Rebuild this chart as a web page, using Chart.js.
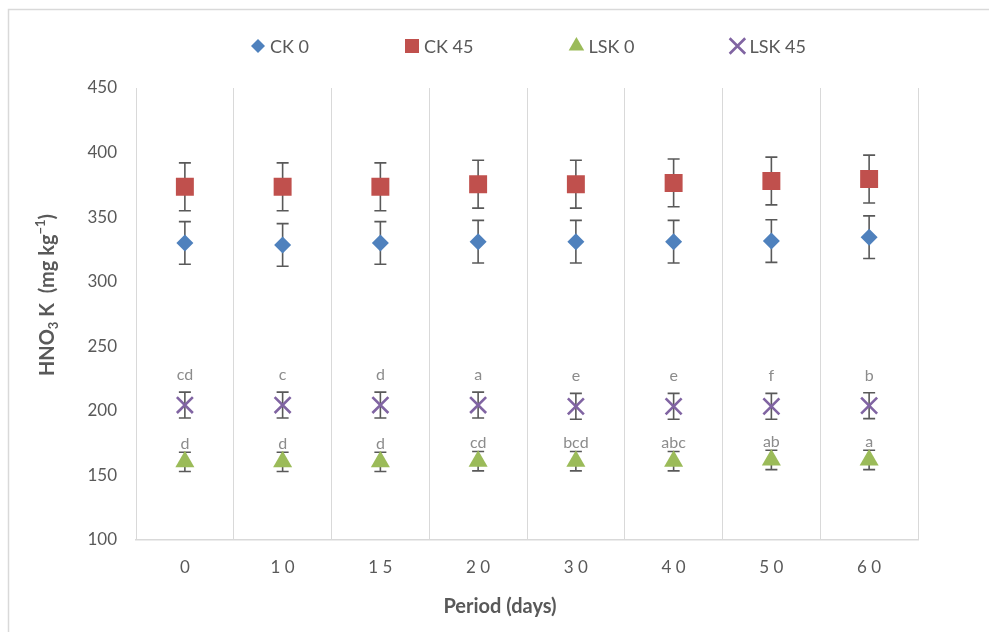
<!DOCTYPE html>
<html><head><meta charset="utf-8">
<script src="https://cdn.jsdelivr.net/npm/chart.js@4.4.0/dist/chart.umd.min.js"></script>
<style>html,body{margin:0;padding:0;background:#fff;overflow:hidden}#wrap{width:989px;height:632px;position:relative}</style>
</head><body><div id="wrap"><canvas id="c" width="989" height="632"></canvas></div>
<script>
// ---- data ----
const periods = ['0','10','15','20','30','40','50','60'];
const ck0      = [330, 328.5, 330, 331, 331, 331, 331.5, 334.5];
const ck0Err   = [16.5, 16.5, 16.5, 16.5, 16.5, 16.5, 16.5, 16.5];
const ck45     = [373.5, 373.5, 373.5, 375.5, 375.5, 376.5, 378, 379.5];
const ck45Err  = [18.5, 18.5, 18.5, 18.5, 18.5, 18.5, 18.5, 18.5];
const lsk0     = [160.5, 160.5, 160.5, 161, 161, 161, 162, 162];
const lsk0Err  = [7.5, 7.5, 7.5, 7.5, 7.5, 7.5, 7.5, 7.5];
const lsk45    = [204.5, 204.5, 204.5, 204.5, 203.5, 203.5, 203.5, 204];
const lsk45Err = [10, 10, 10, 10, 10, 10, 10, 10];
const lsk45Letters = ['cd','c','d','a','e','e','f','b'];
const lsk0Letters  = ['d','d','d','cd','bcd','abc','ab','a'];
const seriesNames = ['CK 0','CK 45','LSK 0','LSK 45'];
const yMin = 100, yMax = 450, yStep = 50;
const yTitleParts = [['HNO',''],['3','sub'],[' K  (mg kg',''],['\u22121','sup'],[')','']];
const xTitle = 'Period (days)';

const FONT = 'Lato, "Open Sans", sans-serif';
const TXT = '#595959';
const GRID = '#d9d9d9';

const styles = [
  {color:'#4f81bd', point:'rectRot', r:8.5, lr:7,   bw:0},
  {color:'#c0504d', point:'rect',    r:12.7, lr:9.9, bw:0},
  {color:'#9bbb59', point:'triangle',r:11,  lr:9,   bw:0},
  {color:'#8064a2', point:'crossRot',r:11.3, lr:11, bw:2.6}
];
const values = [ck0, ck45, lsk0, lsk45];
const errs = [ck0Err, ck45Err, lsk0Err, lsk45Err];

const datasets = values.map((v,i)=>({
  label: seriesNames[i],
  data: v,
  errors: errs[i],
  showLine:false,
  pointStyle: styles[i].point,
  pointRadius: styles[i].r,
  pointHoverRadius: styles[i].r,
  pointBackgroundColor: styles[i].color,
  pointBorderColor: styles[i].color,
  pointBorderWidth: styles[i].bw,
  borderColor: styles[i].color,
  backgroundColor: styles[i].color
}));

function drawMarker(ctx, st, r, x, y){
  ctx.save();
  ctx.fillStyle = st.color; ctx.strokeStyle = st.color;
  ctx.lineWidth = st.bw || 1;
  if (Chart.helpers && Chart.helpers.drawPoint) {
    Chart.helpers.drawPoint(ctx, {pointStyle: st.point, radius: r, rotation: 0, borderWidth: st.bw}, x, y);
  }
  ctx.restore();
}

const decorPlugin = {
  id:'decor',
  beforeDraw(chart){
    const ctx = chart.ctx;
    ctx.save();
    ctx.strokeStyle = GRID; ctx.lineWidth = 1.5;
    ctx.beginPath();
    ctx.moveTo(8.5, 632); ctx.lineTo(8.5, 9.5); ctx.lineTo(989, 9.5);
    ctx.stroke();
    ctx.restore();
  },
  beforeDatasetsDraw(chart){
    const ctx = chart.ctx, ys = chart.scales.y;
    ctx.save();
    ctx.strokeStyle = '#595959'; ctx.lineWidth = 1.6;
    chart.data.datasets.forEach((ds,i)=>{
      const meta = chart.getDatasetMeta(i);
      ds.data.forEach((v,j)=>{
        const x = meta.data[j].x;
        const t = ys.getPixelForValue(v + ds.errors[j]);
        const b = ys.getPixelForValue(v - ds.errors[j]);
        ctx.beginPath();
        ctx.moveTo(x, t); ctx.lineTo(x, b);
        ctx.moveTo(x-6, t); ctx.lineTo(x+6, t);
        ctx.moveTo(x-6, b); ctx.lineTo(x+6, b);
        ctx.stroke();
      });
    });
    ctx.restore();
  },
  afterDraw(chart){
    const ctx = chart.ctx;
    // significance letters
    ctx.save();
    ctx.font = '16px ' + FONT;
    ctx.fillStyle = '#8c8c8c';
    ctx.textAlign = 'center'; ctx.textBaseline = 'middle';
    const groups = [[3, lsk45Letters, 30], [2, lsk0Letters, 18]];
    groups.forEach(([di, letters, off])=>{
      const meta = chart.getDatasetMeta(di);
      letters.forEach((L,j)=>{
        const p = meta.data[j];
        ctx.fillText(L, p.x, p.y - off);
      });
    });
    // legend
    ctx.font = '18px ' + FONT;
    ctx.fillStyle = TXT; ctx.textAlign = 'left';
    let x = 258; const y = 46;
    seriesNames.forEach((name,i)=>{
      drawMarker(ctx, styles[i], styles[i].lr, x, y);
      ctx.fillStyle = TXT;
      ctx.fillText(name, x + 12, y + 1);
      x += 12 + ctx.measureText(name).width + 103;
    });
    ctx.restore();

    // y-axis title with sub/superscripts
    ctx.save();
    ctx.translate(47, 295);
    ctx.rotate(-Math.PI/2);
    ctx.fillStyle = TXT; ctx.textBaseline = 'alphabetic'; ctx.textAlign = 'left';
    const fontFor = k => 'bold ' + (k ? 13 : 20) + 'px ' + FONT;
    let total = 0;
    yTitleParts.forEach(([t,k])=>{ ctx.font = fontFor(k); total += ctx.measureText(t).width; });
    let px = -total/2;
    yTitleParts.forEach(([t,k])=>{
      ctx.font = fontFor(k);
      const dy = k === 'sub' ? 11 : (k === 'sup' ? -2 : 7);
      ctx.fillText(t, px, dy);
      px += ctx.measureText(t).width;
    });
    ctx.restore();

    // x-axis title
    ctx.save();
    ctx.font = 'bold 20px ' + FONT;
    ctx.fillStyle = TXT; ctx.textAlign = 'center'; ctx.textBaseline = 'middle';
    ctx.fillText(xTitle, (chart.chartArea.left + chart.chartArea.right)/2 - 27, 607);
    ctx.restore();
  }
};

new Chart(document.getElementById('c'), {
  type:'line',
  data:{labels: periods, datasets},
  plugins:[decorPlugin],
  options:{
    responsive:false,
    animation:false,
    layout:{padding:{left:8, right:71, top:88, bottom:0}},
    plugins:{legend:{display:false}, tooltip:{enabled:false}},
    scales:{
      x:{
        type:'category',
        offset:true,
        grid:{offset:true, color:GRID, drawTicks:false, lineWidth:1},
        border:{display:true, color:GRID, width:1.5},
        ticks:{color:TXT, font:{family:FONT, size:17}, padding:17,
          callback:function(v){ return this.getLabelForValue(v).split('').join(' '); }},
        title:{display:false},
        afterFit(s){ s.height = 92; }
      },
      y:{
        min:yMin, max:yMax,
        grid:{display:false, drawTicks:false},
        border:{display:false},
        ticks:{stepSize:yStep, color:TXT, font:{family:FONT, size:17}, padding:19},
        title:{display:false},
        afterFit(s){ s.width = 128; }
      }
    }
  }
});
</script>
</body></html>
